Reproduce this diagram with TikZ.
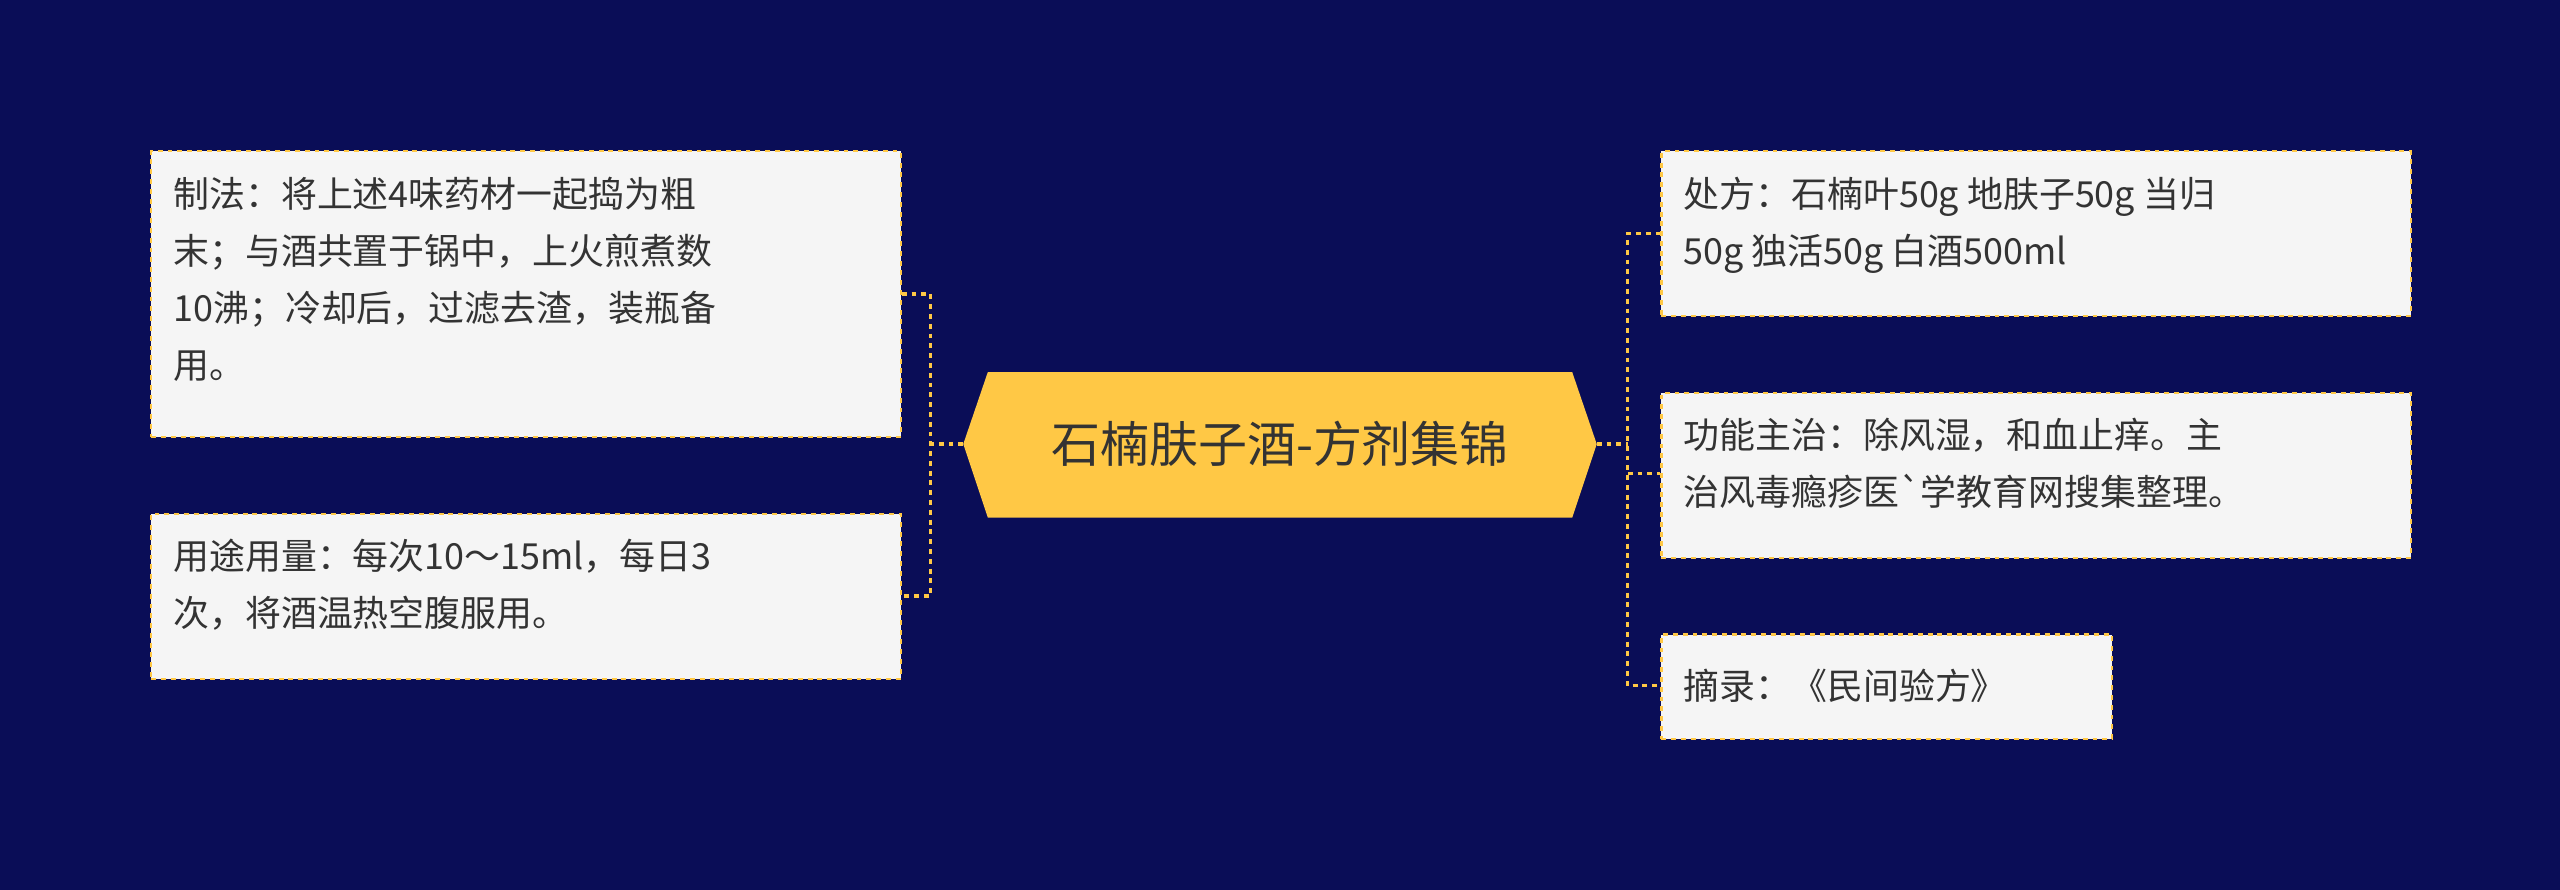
\documentclass[tikz,border=0pt]{standalone}
\usepackage{fontspec}
\newfontfamily\cjk{Noto Sans CJK SC}
\definecolor{bg}{HTML}{0A0D57}
\definecolor{ylw}{HTML}{FFC845}
\definecolor{boxf}{HTML}{F5F5F5}
\definecolor{txt}{HTML}{333333}
\begin{document}
\begin{tikzpicture}[x=1pt,y=-1pt,
  tbox/.style={draw=ylw,dashed,line width=1.3pt,fill=boxf,anchor=north west,inner sep=0pt,align=left,font=\cjk\fontsize{22}{35}\selectfont,text=txt},
  conn/.style={draw=ylw,dashed,line width=2pt}]
\fill[bg] (0,0) rectangle (1568,545);
\useasboundingbox (0,0) rectangle (1568,545);
\fill[ylw] (590,272)--(605,228)--(963,228)--(978,272)--(963,317)--(605,317)--cycle;
\node[font=\cjk\fontsize{30}{36}\selectfont,text=txt] (c) at (784,272) {石楠肤子酒-方剂集锦};
\coordinate (cl) at (590,272); \coordinate (cr) at (978,272);
% left boxes
\node[tbox,minimum width=459pt,minimum height=175pt,text width=431pt,text depth=0pt] (l1) at (92,92) {};
\node[anchor=north west,align=left,font=\cjk\fontsize{22}{35}\selectfont,text=txt,inner sep=0pt] at (106,108) {制法：将上述4味药材一起捣为粗\\末；与酒共置于锅中，上火煎煮数\\10沸；冷却后，过滤去渣，装瓶备\\用。};
\node[tbox,minimum width=459pt,minimum height=101pt] (l2) at (92,314) {};
\node[anchor=north west,align=left,font=\cjk\fontsize{22}{35}\selectfont,text=txt,inner sep=0pt] at (106,330) {用途用量：每次10～15ml，每日3\\次，将酒温热空腹服用。};
% right boxes
\node[tbox,minimum width=459pt,minimum height=101pt] (r1) at (1017,92) {};
\node[anchor=north west,align=left,font=\cjk\fontsize{22}{35}\selectfont,text=txt,inner sep=0pt] at (1031,108) {处方：石楠叶50g 地肤子50g 当归\\50g 独活50g 白酒500ml};
\node[tbox,minimum width=459pt,minimum height=101pt] (r2) at (1017,240) {};
\node[anchor=north west,align=left,font=\cjk\fontsize{22}{35}\selectfont,text=txt,inner sep=0pt] at (1031,256) {功能主治：除风湿，和血止痒。主\\治风毒瘾疹医`学教育网搜集整理。};
\node[tbox,minimum width=276pt,minimum height=64pt] (r3) at (1017,388) {};
\node[anchor=west,font=\cjk\fontsize{22}{35}\selectfont,text=txt,inner sep=0pt] at (1031,420) {摘录：《民间验方》};
% connectors
\draw[conn] (cl) -- (570,272);
\draw[conn] (l1.east |- 0,180) -- (570,180) -- (570,365) -- (l2.east |- 0,365);
\draw[conn] (cr) -- (997,272);
\draw[conn] (r1.west |- 0,143) -- (997,143) -- (997,420) -- (r3.west |- 0,420);
\draw[conn] (997,290) -- (r2.west |- 0,290);
\end{tikzpicture}
\end{document}
